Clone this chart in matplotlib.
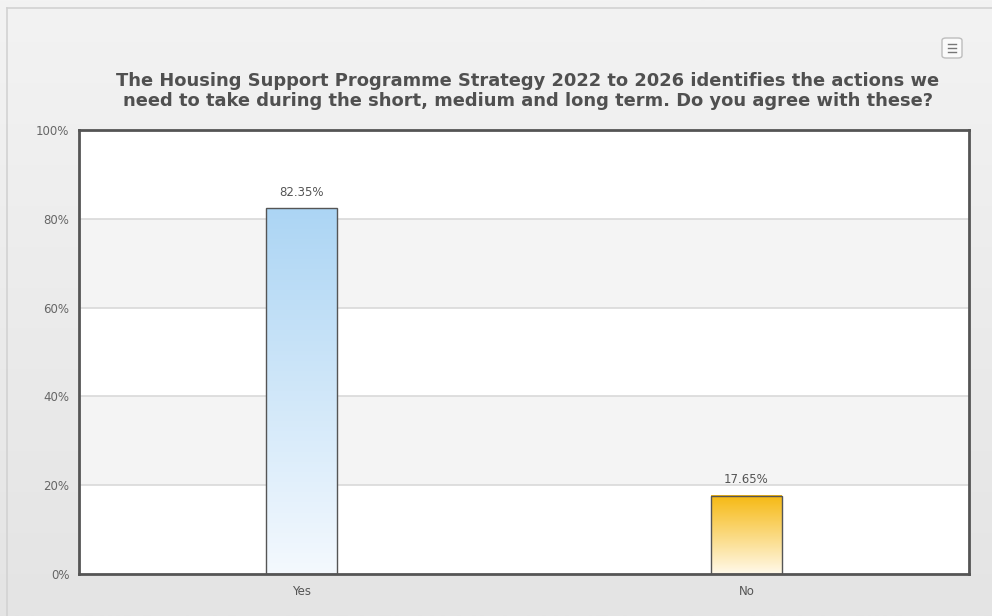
import numpy as np
import matplotlib
matplotlib.use("Agg")
import matplotlib.pyplot as plt
from matplotlib.patches import FancyBboxPatch
from matplotlib.colors import LinearSegmentedColormap

categories = ["Yes", "No"]
values = [82.35, 17.65]
labels = ["82.35%", "17.65%"]
yticks = [0, 20, 40, 60, 80, 100]
ytick_labels = ["0%", "20%", "40%", "60%", "80%", "100%"]
title = ("The Housing Support Programme Strategy 2022 to 2026 identifies the actions we\n"
         "need to take during the short, medium and long term. Do you agree with these?")
bar_colors = [("#f4f9fe", "#acd5f4"), ("#fff9ea", "#f6b912")]

W, H = 992, 616
fig = plt.figure(figsize=(W / 100, H / 100), dpi=100)

# background gradient
bg = fig.add_axes([0, 0, 1, 1], zorder=-10)
grad = np.linspace(0, 1, 256).reshape(-1, 1)
bg_cmap = LinearSegmentedColormap.from_list("bg", ["#f3f3f3", "#e4e4e4"])
bg.imshow(grad, aspect="auto", cmap=bg_cmap, extent=[0, 1, 0, 1], origin="upper")
bg.set_xlim(0, 1)
bg.set_ylim(0, 1)
bg.axis("off")
# outer border
bg.plot([7 / W, 1], [1 - 8 / H, 1 - 8 / H], color="#d2d2d2", lw=1.2)
bg.plot([7 / W, 7 / W], [0, 1 - 8 / H], color="#d2d2d2", lw=1.2)
# menu icon
bx, by, bw, bh = 942 / W, 1 - 58 / H, 20 / W, 20 / H
bg.add_patch(FancyBboxPatch((bx, by), bw, bh, boxstyle="round,pad=0,rounding_size=0.004",
                            fc="#fafafa", ec="#bdbdbd", lw=1, transform=bg.transAxes))
for k in range(3):
    yy = by + bh / 2 + (k - 1) * 3.5 / H
    bg.plot([bx + 6 / W, bx + 14 / W], [yy, yy], color="#777777", lw=1)

fig.text(528 / W, 1 - 91 / H, title, ha="center", va="center", fontsize=12.9,
         fontweight="bold", color="#505050", linespacing=1.12)

left, right, top, bottom = 79, 969, 130, 574
ax = fig.add_axes([left / W, 1 - bottom / H, (right - left) / W, (bottom - top) / H])
ax.set_xlim(-0.5, 1.5)
ax.set_ylim(0, 100)
ax.set_facecolor("white")
# alternating bands
for i in range(len(yticks) - 1):
    if i % 2 == 1:
        ax.axhspan(yticks[i], yticks[i + 1], color="#f4f4f4", zorder=0, lw=0)
for t in yticks[1:-1]:
    ax.axhline(t, color="#d9d9d9", lw=1.2, zorder=1)

bw_data = 0.158
x = np.arange(len(categories))
for i, (v, (c0, c1)) in enumerate(zip(values, bar_colors)):
    cmap = LinearSegmentedColormap.from_list("b%d" % i, [c0, c1])
    ax.imshow(grad[::-1], aspect="auto", cmap=cmap,
              extent=[x[i] - bw_data / 2, x[i] + bw_data / 2, 0, v],
              origin="upper", zorder=2)
bars = ax.bar(x, values, width=bw_data, facecolor="none", edgecolor="#555555",
              lw=1, zorder=3)
for xi, v, lab in zip(x, values, labels):
    ax.text(xi, v + 2.2, lab, ha="center", va="bottom", fontsize=8.5, color="#555555")
ax.set_xlim(-0.5, 1.5)
ax.set_ylim(0, 100)

ax.set_xticks(x)
ax.set_xticklabels(categories, fontsize=8.5, color="#555555")
ax.set_yticks(yticks)
ax.set_yticklabels(ytick_labels, fontsize=8.5, color="#666666")
ax.tick_params(length=0, pad=7)
ax.tick_params(axis="x", pad=8)
for s in ax.spines.values():
    s.set_color("#555555")
    s.set_linewidth(2)

fig.savefig("out.png", dpi=100)
